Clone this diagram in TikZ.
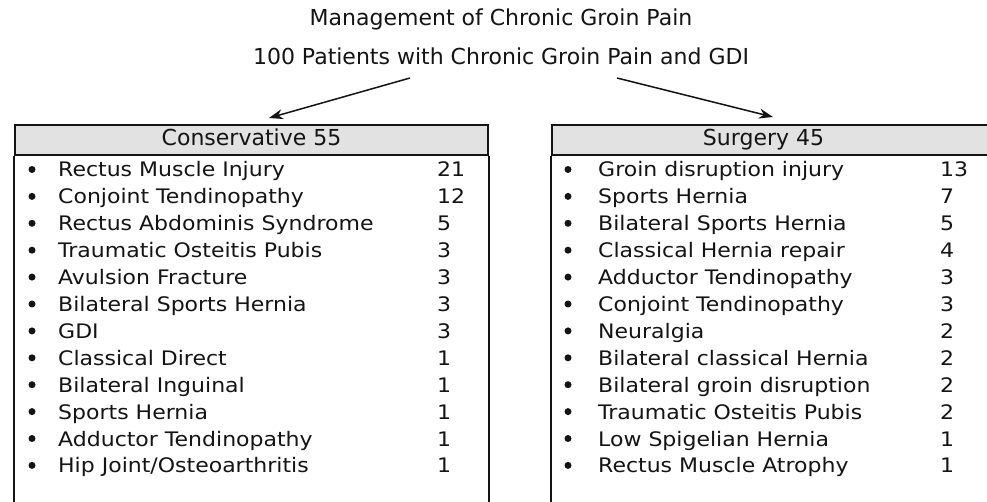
\documentclass[tikz,border=0pt]{standalone}
\usepackage{fontspec}
\setmainfont{DejaVu Sans}
\newfontfamily\itemfont{DejaVu Sans}[FakeStretch=1.1]
\usetikzlibrary{arrows.meta}
\definecolor{hdrgray}{HTML}{E2E2E2}
\definecolor{ink}{HTML}{141414}
\tikzset{
  titletext/.style={anchor=base, inner sep=0, text=ink, font=\fontsize{22}{26}\selectfont},
  hdrbox/.style={draw=ink, fill=hdrgray, line width=1.8pt, inner sep=0, anchor=north west},
  hdrtext/.style={anchor=base, inner sep=0, text=ink, font=\fontsize{22}{26}\selectfont},
  itemtext/.style={anchor=base west, inner sep=0, text=ink, font=\itemfont\fontsize{20}{24}\selectfont},
  bulletdot/.style={circle, fill=ink, inner sep=0, minimum size=7pt},
  sideline/.style={draw=ink, line width=1.8pt},
  arrowline/.style={draw=ink, line width=1.5pt, -{Stealth[length=14pt,width=10pt]}}
}
\begin{document}
\begin{tikzpicture}[x=1pt,y=-1pt]
\useasboundingbox (0,0) rectangle (987,502);
\fill[white] (0,0) rectangle (987,502);

\node[titletext] (title) at (501,26) {Management of Chronic Groin Pain};
\node[titletext] (sub) at (501,65) {100 Patients with Chronic Groin Pain and GDI};

% headers
\node[hdrbox, minimum width=473pt, minimum height=30pt] (lh) at (14,124) {};
\node[hdrbox, minimum width=436pt, minimum height=30pt] (rh) at (551,124) {};
\node[hdrtext] (lht) at (251.5,146) {Conservative 55};
\node[hdrtext] (rht) at (763.5,146) {Surgery 45};

% box sides
\draw[sideline] (lh.south west) -- ++(0,380);
\draw[sideline] (lh.south east) -- ++(0,380);
\draw[sideline] (rh.south west) -- ++(0,380);
\draw[sideline] (rh.south east) -- ++(0,380);

% arrows
\coordinate (la) at (410,78);
\coordinate (lt) at (269,118);
\coordinate (ra) at (617,78);
\coordinate (rt) at (773,117);
\draw[arrowline] (la) -- (lt);
\draw[arrowline] (ra) -- (rt);

% left list
\foreach \t/\n [count=\i from 0] in {
  Rectus Muscle Injury/21,
  Conjoint Tendinopathy/12,
  Rectus Abdominis Syndrome/5,
  Traumatic Osteitis Pubis/3,
  Avulsion Fracture/3,
  Bilateral Sports Hernia/3,
  GDI/3,
  Classical Direct/1,
  Bilateral Inguinal/1,
  Sports Hernia/1,
  Adductor Tendinopathy/1,
  Hip Joint{/}Osteoarthritis/1}{
  \pgfmathsetmacro{\yb}{177+26.9*\i}
  \node[bulletdot] (lb\i) at (32,\yb-7.5) {};
  \node[itemtext] (li\i) at (58,\yb) {\t};
  \node[itemtext] (ln\i) at (437,\yb) {\n};
}

% right list
\foreach \t/\n [count=\i from 0] in {
  Groin disruption injury/13,
  Sports Hernia/7,
  Bilateral Sports Hernia/5,
  Classical Hernia repair/4,
  Adductor Tendinopathy/3,
  Conjoint Tendinopathy/3,
  Neuralgia/2,
  Bilateral classical Hernia/2,
  Bilateral groin disruption/2,
  Traumatic Osteitis Pubis/2,
  Low Spigelian Hernia/1,
  Rectus Muscle Atrophy/1}{
  \pgfmathsetmacro{\yb}{177+26.9*\i}
  \node[bulletdot] (rb\i) at (568,\yb-7.5) {};
  \node[itemtext] (ri\i) at (598,\yb) {\t};
  \node[itemtext] (rn\i) at (940,\yb) {\n};
}
\end{tikzpicture}
\end{document}
